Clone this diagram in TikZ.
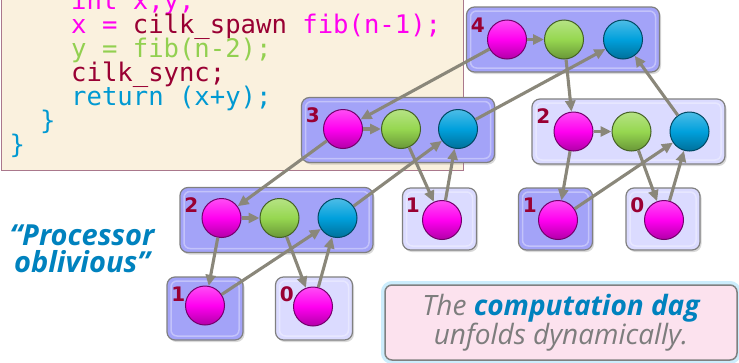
\documentclass[tikz,border=0pt]{standalone}
\usepackage{fontspec}
\setsansfont{Open Sans}
\newfontfamily\codefont{DejaVu Sans Mono}
\newfontfamily\numfont{DejaVu Sans}
\usetikzlibrary{arrows.meta,shadows,positioning}

\definecolor{codebg}{RGB}{250,241,222}
\definecolor{codeframe}{RGB}{170,120,140}
\definecolor{codemag}{RGB}{255,0,240}
\definecolor{cilkred}{RGB}{153,0,51}
\definecolor{codegreen}{RGB}{146,208,80}
\definecolor{codeblue}{RGB}{0,153,210}
\definecolor{boxdark}{RGB}{163,163,248}
\definecolor{boxlight}{RGB}{219,219,255}
\definecolor{boxframe}{RGB}{128,128,128}
\definecolor{edgegray}{RGB}{138,135,122}
\definecolor{spawncol}{RGB}{255,0,240}
\definecolor{contcol}{RGB}{150,215,80}
\definecolor{synccol}{RGB}{0,160,220}
\definecolor{notepink}{RGB}{252,226,238}
\definecolor{notegray}{RGB}{125,125,125}
\definecolor{dagblue}{RGB}{0,130,190}
\definecolor{glowblue}{RGB}{170,225,250}

\begin{document}
\begin{tikzpicture}[x=1pt,y=-1pt]
	\tikzstyle{codeline}=[anchor=base west, inner sep=0pt, font=\codefont\fontsize{25.6}{25.6}\selectfont]
	\tikzstyle{dagbox}=[draw=boxframe, line width=1.2pt, rounded corners=8pt, inner sep=0pt]
    % soft shadow and inner bevel line
	\tikzstyle{dagbox}+=[drop shadow={shadow xshift=1.5pt, shadow yshift=-2pt, opacity=0.3}]
	\tikzstyle{dagbox}+=[path picture={\draw[white, opacity=0.35, line width=1.5pt, rounded corners=6pt] ([shift={(4pt,-4pt)}]path picture bounding box.north west) rectangle ([shift={(-4pt,4pt)}]path picture bounding box.south east);}]
	\tikzstyle{bigbox}=[dagbox, minimum width=193pt, minimum height=65pt]
	\tikzstyle{smallbox}=[dagbox, minimum width=74pt, minimum height=62pt]
	\tikzstyle{boxnum}=[inner sep=0pt, text=cilkred, font=\numfont\bfseries\fontsize{20}{20}\selectfont]

	\tikzstyle{strand}=[circle, minimum size=39pt, inner sep=0pt, line width=1pt]
	\tikzstyle{spawn}=[strand, draw=spawncol!45!black, top color=spawncol!70!white, bottom color=spawncol!70!black, middle color=spawncol]
	\tikzstyle{cont}=[strand, draw=contcol!45!black, top color=contcol!70!white, bottom color=contcol!70!black, middle color=contcol]
	\tikzstyle{sync}=[strand, draw=synccol!45!black, top color=synccol!70!white, bottom color=synccol!70!black, middle color=synccol]

	\tikzstyle{myarrow}=[->, >={Triangle[length=11pt,width=10pt]}, draw=edgegray, line width=3.1pt]

	\useasboundingbox (0,0) rectangle (739,362);
	\clip (0,0) rectangle (739,362);

	% code
	\node[draw=codeframe, fill=codebg, line width=0.8pt, inner sep=0pt, minimum width=462pt, minimum height=200pt, anchor=south west] (codebox) at (1,171) {};
	\node[codeline, text=codemag] (c1) at (71,9) {int x,y;};
	\node[codeline, text=codemag] (c2) at (71,33) {x = \textcolor{cilkred}{cilk\_spawn} fib(n-1);};
	\node[codeline, text=codegreen] (c3) at (71,57) {y = fib(n-2);};
	\node[codeline, text=cilkred] (c4) at (71,81) {cilk\_sync;};
	\node[codeline, text=codeblue] (c5) at (71,105) {return (x+y);};
	\node[codeline, text=codeblue] (c6) at (40,129) {\}};
	\node[codeline, text=codeblue] (c7) at (9.5,153) {\}};

	% boxes
	\node[bigbox, fill=boxdark] (b4) at (563,39.5) {};
	\node[bigbox, fill=boxdark] (b3) at (398,130) {};
	\node[bigbox, fill=boxlight] (b2r) at (628.5,131.5) {};
	\node[bigbox, fill=boxdark] (b2l) at (276.5,220) {};
	\node[smallbox, fill=boxlight] (b1m) at (439.5,219) {};
	\node[smallbox, fill=boxdark] (b1r) at (555.5,219) {};
	\node[smallbox, fill=boxlight] (b0r) at (663,219) {};
	\node[smallbox, fill=boxdark, minimum width=76pt, minimum height=63pt] (b1l) at (205,308.5) {};
	\node[smallbox, fill=boxlight, minimum width=77pt, minimum height=63pt] (b0l) at (314,308.5) {};

	\node[boxnum] (n4) at ([xshift=12pt,yshift=-19pt]b4.north west) {4};
	\node[boxnum] (n3) at ([xshift=12pt,yshift=-18pt]b3.north west) {3};
	\node[boxnum] (n2r) at ([xshift=12pt,yshift=-18pt]b2r.north west) {2};
	\node[boxnum] (n2l) at ([xshift=12pt,yshift=-18pt]b2l.north west) {2};
	\node[boxnum] (n1m) at ([xshift=11pt,yshift=-18pt]b1m.north west) {1};
	\node[boxnum] (n1r) at ([xshift=12pt,yshift=-18pt]b1r.north west) {1};
	\node[boxnum] (n0r) at ([xshift=12pt,yshift=-18pt]b0r.north west) {0};
	\node[boxnum] (n1l) at ([xshift=12pt,yshift=-18pt]b1l.north west) {1};
	\node[boxnum] (n0l) at ([xshift=12pt,yshift=-18pt]b0l.north west) {0};

	% strands
	\node[spawn] (m4) at ([xshift=-56pt]b4.center) {};
	\node[cont] (g4) at ([xshift=1pt]b4.center) {};
	\node[sync] (s4) at ([xshift=60pt]b4.center) {};
	\node[spawn] (m3) at ([xshift=-55pt,yshift=1pt]b3.center) {};
	\node[cont] (g3) at ([xshift=3pt,yshift=1pt]b3.center) {};
	\node[sync] (s3) at ([xshift=60pt,yshift=1pt]b3.center) {};
	\node[spawn] (m2r) at ([xshift=-55pt]b2r.center) {};
	\node[cont] (g2r) at ([xshift=3pt]b2r.center) {};
	\node[sync] (s2r) at ([xshift=61pt]b2r.center) {};
	\node[spawn] (m2l) at ([xshift=-55pt,yshift=2pt]b2l.center) {};
	\node[cont] (g2l) at ([xshift=3pt,yshift=2pt]b2l.center) {};
	\node[sync] (s2l) at ([xshift=61pt,yshift=2pt]b2l.center) {};
	\node[spawn] (m1m) at ([xshift=2.5pt,yshift=-1pt]b1m.center) {};
	\node[spawn] (m1r) at ([xshift=2.5pt,yshift=-1pt]b1r.center) {};
	\node[spawn] (m0r) at ([xshift=1pt,yshift=-1pt]b0r.center) {};
	\node[spawn] (m1l) at ([yshift=3pt]b1l.center) {};
	\node[spawn] (m0l) at ([xshift=-1pt,yshift=2pt]b0l.center) {};

	% dag edges
	\draw[myarrow] (m4) -- (g4);
	\draw[myarrow] (m4) -- (m3);
	\draw[myarrow] (g4) -- (m2r);
	\draw[myarrow] (s3) -- (s4);
	\draw[myarrow] (s2r) -- (s4);

	\draw[myarrow] (m3) -- (g3);
	\draw[myarrow] (m3) -- (m2l);
	\draw[myarrow] (g3) -- (m1m);
	\draw[myarrow] (s2l) -- (s3);
	\draw[myarrow] (m1m) -- (s3);

	\draw[myarrow] (m2r) -- (g2r);
	\draw[myarrow] (m2r) -- (m1r);
	\draw[myarrow] (g2r) -- (m0r);
	\draw[myarrow] (m1r) -- (s2r);
	\draw[myarrow] (m0r) -- (s2r);

	\draw[myarrow] (m2l) -- (g2l);
	\draw[myarrow] (m2l) -- (m1l);
	\draw[myarrow] (g2l) -- (m0l);
	\draw[myarrow] (m1l) -- (s2l);
	\draw[myarrow] (m0l) -- (s2l);

	% side notes
	\node[align=center, text=dagblue, inner sep=0pt, font=\sffamily\bfseries\itshape\fontsize{29}{27}\selectfont] (proc) at (82,249) {“Processor\\oblivious”};

	\node[draw=boxframe, line width=1.5pt, fill=notepink, rounded corners=7pt, minimum width=352pt, minimum height=75pt, align=center, text=notegray, font=\sffamily\itshape\fontsize{28}{28}\selectfont, preaction={draw=glowblue, line width=8pt, opacity=0.6}] (note) at (561,322.5) {The \textcolor{dagblue}{\bfseries computation dag}\\unfolds dynamically.};
\end{tikzpicture}
\end{document}
